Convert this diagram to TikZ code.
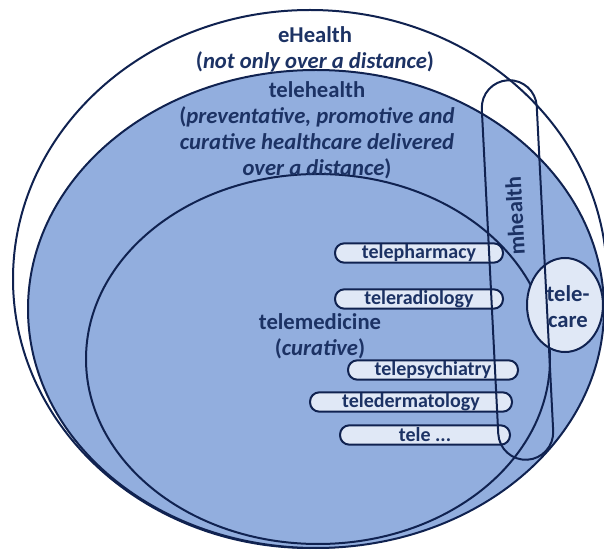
\documentclass[tikz,border=0pt]{standalone}
\usepackage{fontspec}
\setmainfont{Carlito}
\usepackage{xcolor}
\usetikzlibrary{shapes.geometric}
\definecolor{navyline}{RGB}{16,34,80}
\definecolor{navytext}{RGB}{28,50,100}
\definecolor{healthblue}{RGB}{146,174,222}
\definecolor{pillfill}{RGB}{224,232,246}

\begin{document}
\begin{tikzpicture}[x=0.75pt,y=0.75pt,yscale=-1,xscale=1,
    ring/.style={draw=navyline, line width=1.5pt},
    titletext/.style={text=navytext, font=\fontsize{17}{19.5}\selectfont\bfseries, align=center, inner sep=0pt},
    pill/.style={draw=navyline, line width=1.5pt, fill=pillfill, rounded corners=7pt, text=navytext, font=\fontsize{15}{15}\selectfont\bfseries, inner sep=0pt, minimum height=14.5pt}]
    \useasboundingbox (0,0) rectangle (604,552);

    %eHealth, telehealth, telemedicine
    \draw[ring] (310,279) ellipse (297 and 269);
    \draw[ring, fill=healthblue] (316,309) ellipse (288 and 239);
    \draw[ring, fill=healthblue] (318,359) ellipse (232 and 185);

    %telecare
    \node[ring, fill=pillfill, ellipse, minimum width=57pt, minimum height=70.5pt, inner sep=0pt] (telecare) at (565,305) {};
    \node[titletext] (telecaretext) at (568,307) {tele-\\care};

    %services
    \node[pill, minimum width=126pt] (pharmacy) at (419,253) {telepharmacy};
    \node[pill, minimum width=126pt] (radiology) at (419,299) {teleradiology};
    \node[pill, minimum width=127.5pt] (psychiatry) at (433,370) {telepsychiatry};
    \node[pill, minimum width=151.5pt] (dermatology) at (411,402) {teledermatology};
    \node[pill, minimum width=127.5pt] (other) at (425,435) {tele ...};

    %mhealth
    \node[ring, minimum width=41.25pt, minimum height=285pt, rounded corners=20.6pt, rotate=2.9] (mhealth) at (517.5,270) {};
    \node[titletext, rotate=92.9] (mhealthtext) at (515,216) {mhealth};

    % Text Node
    \node[titletext] (ehealthtext) at (315,49) {eHealth\\(\textit{not only over a distance})};
    % Text Node
    \node[titletext] (telehealthtext) at (317,130) {telehealth\\(\textit{preventative, promotive and}\\\textit{curative healthcare delivered}\\\textit{over a distance})};
    % Text Node
    \node[titletext] (telemedtext) at (320,336) {telemedicine\\(\textit{curative})};
\end{tikzpicture}
\end{document}
